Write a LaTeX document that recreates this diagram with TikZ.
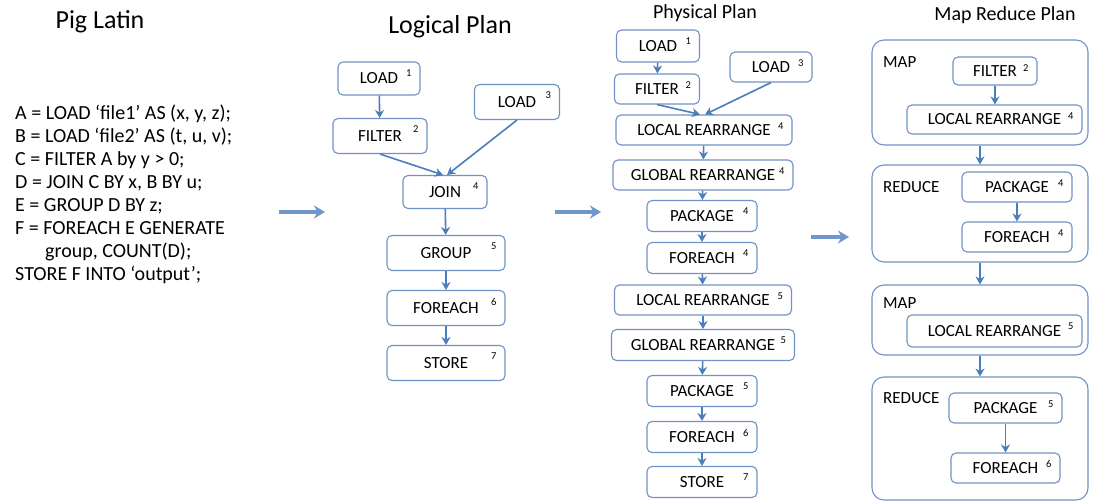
\documentclass[tikz,border=0pt]{standalone}
\usepackage{fontspec}
\setmainfont{Carlito}
\usetikzlibrary{positioning}
\usetikzlibrary{arrows.meta}

\definecolor{boxblue}{RGB}{112,146,198}
\definecolor{arrowblue}{RGB}{74,126,187}
\definecolor{panelarrow}{RGB}{112,150,204}

\tikzset{
  op/.style={draw=boxblue, line width=1.1pt, rounded corners=5pt, fill=white,
    font=\fontsize{17}{20}\selectfont, minimum width=#1, minimum height=31pt, inner sep=2pt},
  op/.default=110pt,
  sup/.style={font=\fontsize{10.5}{12}\selectfont, anchor=north east, inner sep=0pt, xshift=-9pt, yshift=-8pt},
  num/.style={label={[sup]north east:#1}},
  stage/.style={draw=boxblue, line width=1.1pt, rounded corners=12pt, fill=white, minimum width=216pt},
  stagename/.style={font=\fontsize{17}{20}\selectfont, anchor=west, inner sep=0pt},
  title/.style={font=\fontsize{#1}{#1}\selectfont, inner sep=0pt},
  flow/.style={arrowblue, line width=1.6pt, -{Stealth[length=8pt,width=9pt]}},
  bigflow/.style={panelarrow, line width=3.5pt, -{Stealth[length=11pt,width=13pt]}}
}

\begin{document}
\begin{tikzpicture}[x=1pt, y=-1pt]
  \fill[white] (0,0) rectangle (1102,503);
  \useasboundingbox (0,0) rectangle (1102,503);

  % titles
  \node[title=26] (tpig) at (100,22) {Pig Latin};
  \node[title=26] (tlog) at (450,27) {Logical Plan};
  \node[title=20] (tphy) at (705,13) {Physical Plan};
  \node[title=20] (tmr) at (1005,15) {Map Reduce Plan};

  % pig latin script
  \node[anchor=north west, align=left, inner sep=0pt, font=\fontsize{20}{23}\selectfont] (pig) at (15,105) {%
    A = LOAD ‘file1’ AS (x, y, z);\\
    B = LOAD ‘file2’ AS (t, u, v);\\
    C = FILTER A by y > 0;\\
    D = JOIN C BY x, B BY u;\\
    E = GROUP D BY z;\\
    F = FOREACH E GENERATE\\
    \hspace*{30pt}group, COUNT(D);\\
    STORE F INTO ‘output’;};

  % logical plan
  \node[op=82pt, minimum height=33pt, num=1] (ll1) at (379,78.5) {LOAD};
  \node[op=94pt, minimum height=35pt, num=2] (lf) at (380,136) {FILTER};
  \node[op=85pt, minimum height=35pt, num=3] (ll3) at (517,102) {LOAD};
  \node[op=84pt, minimum height=33pt, num=4] (lj) at (445,192) {JOIN};
  \node[op=118pt, minimum height=35pt, num=5] (lg) at (446,253) {GROUP};
  \node[op=118pt, minimum height=35pt, num=6] (lfe) at (446,308) {FOREACH};
  \node[op=118pt, minimum height=35pt, num=7] (ls) at (446,363) {STORE};
  \draw[flow] (ll1) -- (lf);
  \draw[flow] (lf.south) -- ([xshift=-2pt]lj.north);
  \draw[flow] (ll3.south) -- ([xshift=2pt]lj.north);
  \draw[flow] (lj) -- (lg);
  \draw[flow] (lg) -- (lfe);
  \draw[flow] (lfe) -- (ls);

  % physical plan
  \node[op=83pt, minimum height=32pt, num=1] (pl1) at (658,46) {LOAD};
  \node[op=85pt, minimum height=30pt, num=2] (pf) at (657,89) {FILTER};
  \node[op=82pt, minimum height=30pt, num=3] (pl3) at (771,67) {LOAD};
  \node[op=176pt, minimum height=30pt, num=4] (pr4) at (704,130) {LOCAL REARRANGE};
  \node[op=180pt, minimum height=30pt, num=4] (pg4) at (703,175) {GLOBAL REARRANGE};
  \node[op, num=4] (pp4) at (702,216) {PACKAGE};
  \node[op, num=4] (pe4) at (702,258) {FOREACH};
  \node[op=177pt, minimum height=30pt, num=5] (pr5) at (703,300) {LOCAL REARRANGE};
  \node[op=183pt, num=5] (pg5) at (703,345) {GLOBAL REARRANGE};
  \node[op, num=5] (pp5) at (702,391) {PACKAGE};
  \node[op, num=6] (pe6) at (702,437) {FOREACH};
  \node[op, num=7] (ps7) at (702,482) {STORE};
  \draw[flow] (pl1) -- (pf);
  \draw[flow] (pf.south) -- ([xshift=-4pt]pr4.north);
  \draw[flow] (pl3.south) -- ([xshift=1pt]pr4.north);
  \draw[flow] (pr4) -- (pg4);
  \draw[flow] (pg4) -- (pp4);
  \draw[flow] (pp4) -- (pe4);
  \draw[flow] (pe4) -- (pr5);
  \draw[flow] (pr5) -- (pg5);
  \draw[flow] (pg5) -- (pp5);
  \draw[flow] (pp5) -- (pe6);
  \draw[flow] (pe6) -- (ps7);

  % map reduce plan
  \node[stage, minimum height=105pt] (m1) at (980,92.5) {};
  \node[stage, minimum height=97pt] (r1) at (980,213.5) {};
  \node[stage, minimum height=70pt] (m2) at (980,320) {};
  \node[stage, minimum height=123pt] (r2) at (980,438.5) {};
  \node[stagename] (m1l) at (883,62) {MAP};
  \node[stagename] (r1l) at (883,187) {REDUCE};
  \node[stagename] (m2l) at (883,303) {MAP};
  \node[stagename] (r2l) at (883,398) {REDUCE};
  \node[op=84pt, minimum height=28pt, num=2] (mf2) at (995,71) {FILTER};
  \node[op=175pt, minimum height=29pt, num=4] (mr4) at (994.5,119.5) {LOCAL REARRANGE};
  \node[op, minimum height=30pt, num=4] (mp4) at (1017,187) {PACKAGE};
  \node[op, minimum height=30pt, num=4] (me4) at (1017,237) {FOREACH};
  \node[op=175pt, minimum height=32pt, num=5] (mr5) at (994.5,331) {LOCAL REARRANGE};
  \node[op=113pt, minimum height=30pt, num=5] (mp5) at (1005.5,408) {PACKAGE};
  \node[op=109pt, minimum height=30pt, num=6] (me6) at (1005.5,468) {FOREACH};
  \draw[flow] (mf2) -- (mf2 |- mr4.north);
  \draw[flow] (mp4) -- (me4);
  \draw[flow] (mp5) -- (me6);
  \draw[flow] (m1) -- (r1);
  \draw[flow] (r1) -- (m2);
  \draw[flow] (m2) -- (r2);

  % arrows between the plans
  \coordinate (a1) at (279,212);
  \coordinate (b1) at (325,212);
  \coordinate (a2) at (555,212);
  \coordinate (b2) at (601,212);
  \coordinate (a3) at (811,237);
  \coordinate (b3) at (849,237);
  \draw[bigflow] (a1) -- (b1);
  \draw[bigflow] (a2) -- (b2);
  \draw[bigflow] (a3) -- (b3);
\end{tikzpicture}
\end{document}
